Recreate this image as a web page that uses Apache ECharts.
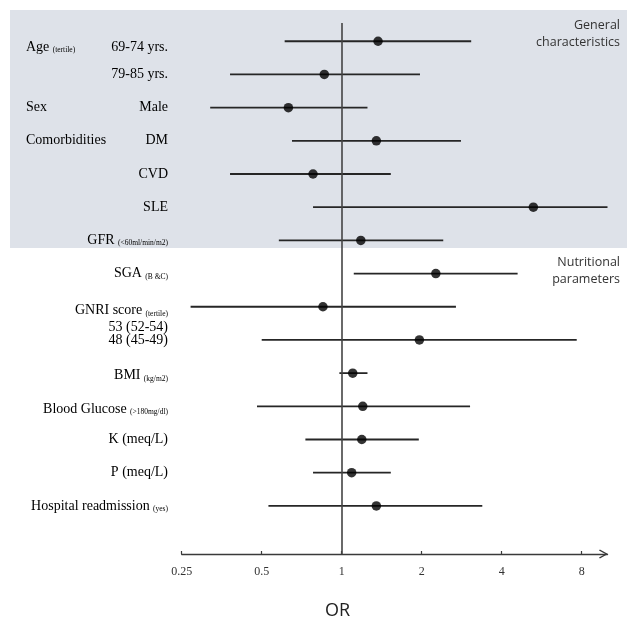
<!DOCTYPE html>
<html><head><meta charset="utf-8">
<script src="https://cdn.jsdelivr.net/npm/echarts@6/dist/echarts.min.js"></script>
<style>html,body{margin:0;padding:0;background:#fff}#c{width:627px;height:618px}</style>
</head><body><div id="c"></div>
<script>
// ---- data ----
const rowLabels = ['69-74 yrs.', '79-85 yrs.', 'Male', 'DM', 'CVD', 'SLE', 'GFR', 'SGA', 'GNRI score', '48 (45-49)', 'BMI', 'Blood Glucose', 'K (meq/L)', 'P (meq/L)', 'Hospital readmission'];
const rowSubs = ['', '', '', '', '', '', '(<60ml/min/m2)', '(B &C)', '(tertile)', '', '(kg/m2)', '(>180mg/dl)', '', '', '(yes)'];
const labelRows = [0.18, 1, 2, 3, 4, 5, 6, 7, 8.12, 9, 10.08, 11.08, 12, 13, 14];
const extraLabels = [['53 (52-54)', 8.62]];
const groupLabels = [['Age', '(tertile)', 0.18], ['Sex', '', 2], ['Comorbidities', '', 3]];
const orValues = [1.37, 0.86, 0.63, 1.35, 0.78, 5.26, 1.18, 2.26, 0.85, 1.96, 1.10, 1.20, 1.19, 1.09, 1.35];
const ciLower  = [0.61, 0.38, 0.32, 0.65, 0.38, 0.78, 0.58, 1.11, 0.27, 0.50, 0.98, 0.48, 0.73, 0.78, 0.53];
const ciUpper  = [3.07, 1.97, 1.25, 2.81, 1.53, 10.0, 2.41, 4.59, 2.69, 7.66, 1.25, 3.04, 1.95, 1.53, 3.38];
const tickValues = [0.25, 0.5, 1, 2, 4, 8];
const sectionTitles = [['General', 'characteristics', -0.23], ['Nutritional', 'parameters', 6.91]];

// ---- chart ----
const chart = echarts.init(document.getElementById('c'), null, {renderer: 'canvas'});
const serif = 'Liberation Serif';
const sans = 'Open Sans';

chart.setOption({
  animation: false,
  backgroundColor: '#ffffff',
  grid: {left: 181.7, right: 19.5, top: 23, bottom: 64, containLabel: false},
  xAxis: {
    type: 'log', logBase: 2, min: 0.25, max: 10,
    axisLine: {show: true, onZero: false,
      symbol: ['none', 'path://M0,9 L5,0 L10,9 L8.8,10 L5,3 L1.2,10 Z'],
      symbolSize: [9, 10], symbolOffset: [0, -4],
      lineStyle: {color: '#3a3a3a', width: 1.4}},
    axisTick: {show: true, customValues: tickValues, length: 3, inside: true, lineStyle: {color: '#3a3a3a', width: 1.2}},
    axisLabel: {show: true, customValues: tickValues, margin: 12, color: '#333', fontFamily: serif, fontSize: 12,
      formatter: v => String(+(+v).toPrecision(3))},
    splitLine: {show: false},
    minorTick: {show: false}
  },
  yAxis: {type: 'value', inverse: true, min: -0.55, max: 15.45, show: false},
  series: [
    {
      type: 'custom',
      data: orValues.map((v, i) => [ciLower[i], ciUpper[i], i]),
      encode: {x: [0, 1], y: 2},
      renderItem: function (params, api) {
        const p1 = api.coord([api.value(0), api.value(2)]);
        const p2 = api.coord([api.value(1), api.value(2)]);
        return {type: 'line', shape: {x1: p1[0], y1: p1[1], x2: p2[0], y2: p2[1]},
          style: {stroke: '#262626', lineWidth: 1.8}};
      },
      z: 3
    },
    {
      type: 'scatter',
      data: orValues.map((v, i) => [v, i]),
      symbol: 'circle', symbolSize: 9.5,
      itemStyle: {color: '#000'},
      z: 4,
      markLine: {
        silent: true, symbol: 'none', label: {show: false},
        lineStyle: {color: '#444', width: 1.6, type: 'solid'},
        data: [{xAxis: 1}]
      }
    }
  ]
});

// ---- text labels placed through the y scale ----
const yPix = r => chart.convertToPixel({yAxisIndex: 0}, r);
const rich = {
  m: {fontFamily: serif, fontSize: 14, color: '#222'},
  s: {fontFamily: serif, fontSize: 7.5, color: '#222', verticalAlign: 'bottom', padding: [6, 0, 0, 0]}
};
const g = [];
g.push({type: 'rect', shape: {x: 10, y: 10, width: 617, height: 238}, style: {fill: '#dee2e9'}, z: -10, silent: true});
rowLabels.forEach((t, i) => {
  const txt = rowSubs[i] ? '{m|' + t + '} {s|' + rowSubs[i] + '}' : '{m|' + t + '}';
  g.push({type: 'text', x: 168, y: yPix(labelRows[i]), z: 10,
    style: {text: txt, rich: rich, align: 'right', verticalAlign: 'middle'}});
});
extraLabels.forEach(e => {
  g.push({type: 'text', x: 168, y: yPix(e[1]), z: 10,
    style: {text: '{m|' + e[0] + '}', rich: rich, align: 'right', verticalAlign: 'middle'}});
});
groupLabels.forEach(e => {
  const txt = e[1] ? '{m|' + e[0] + '} {s|' + e[1] + '}' : '{m|' + e[0] + '}';
  g.push({type: 'text', x: 26, y: yPix(e[2]), z: 10,
    style: {text: txt, rich: rich, align: 'left', verticalAlign: 'middle'}});
});
sectionTitles.forEach(e => {
  g.push({type: 'text', x: 620, y: yPix(e[2]), z: 10,
    style: {text: e[0] + '\n' + e[1], fontFamily: sans, fontSize: 12.5, lineHeight: 17, fill: '#333', align: 'right', verticalAlign: 'middle'}});
});
g.push({type: 'text', x: 337.5, y: 611, z: 10,
  style: {text: 'OR', fontFamily: sans, fontSize: 18, fill: '#222', align: 'center', verticalAlign: 'middle'}});
chart.setOption({graphic: g});
</script></body></html>
